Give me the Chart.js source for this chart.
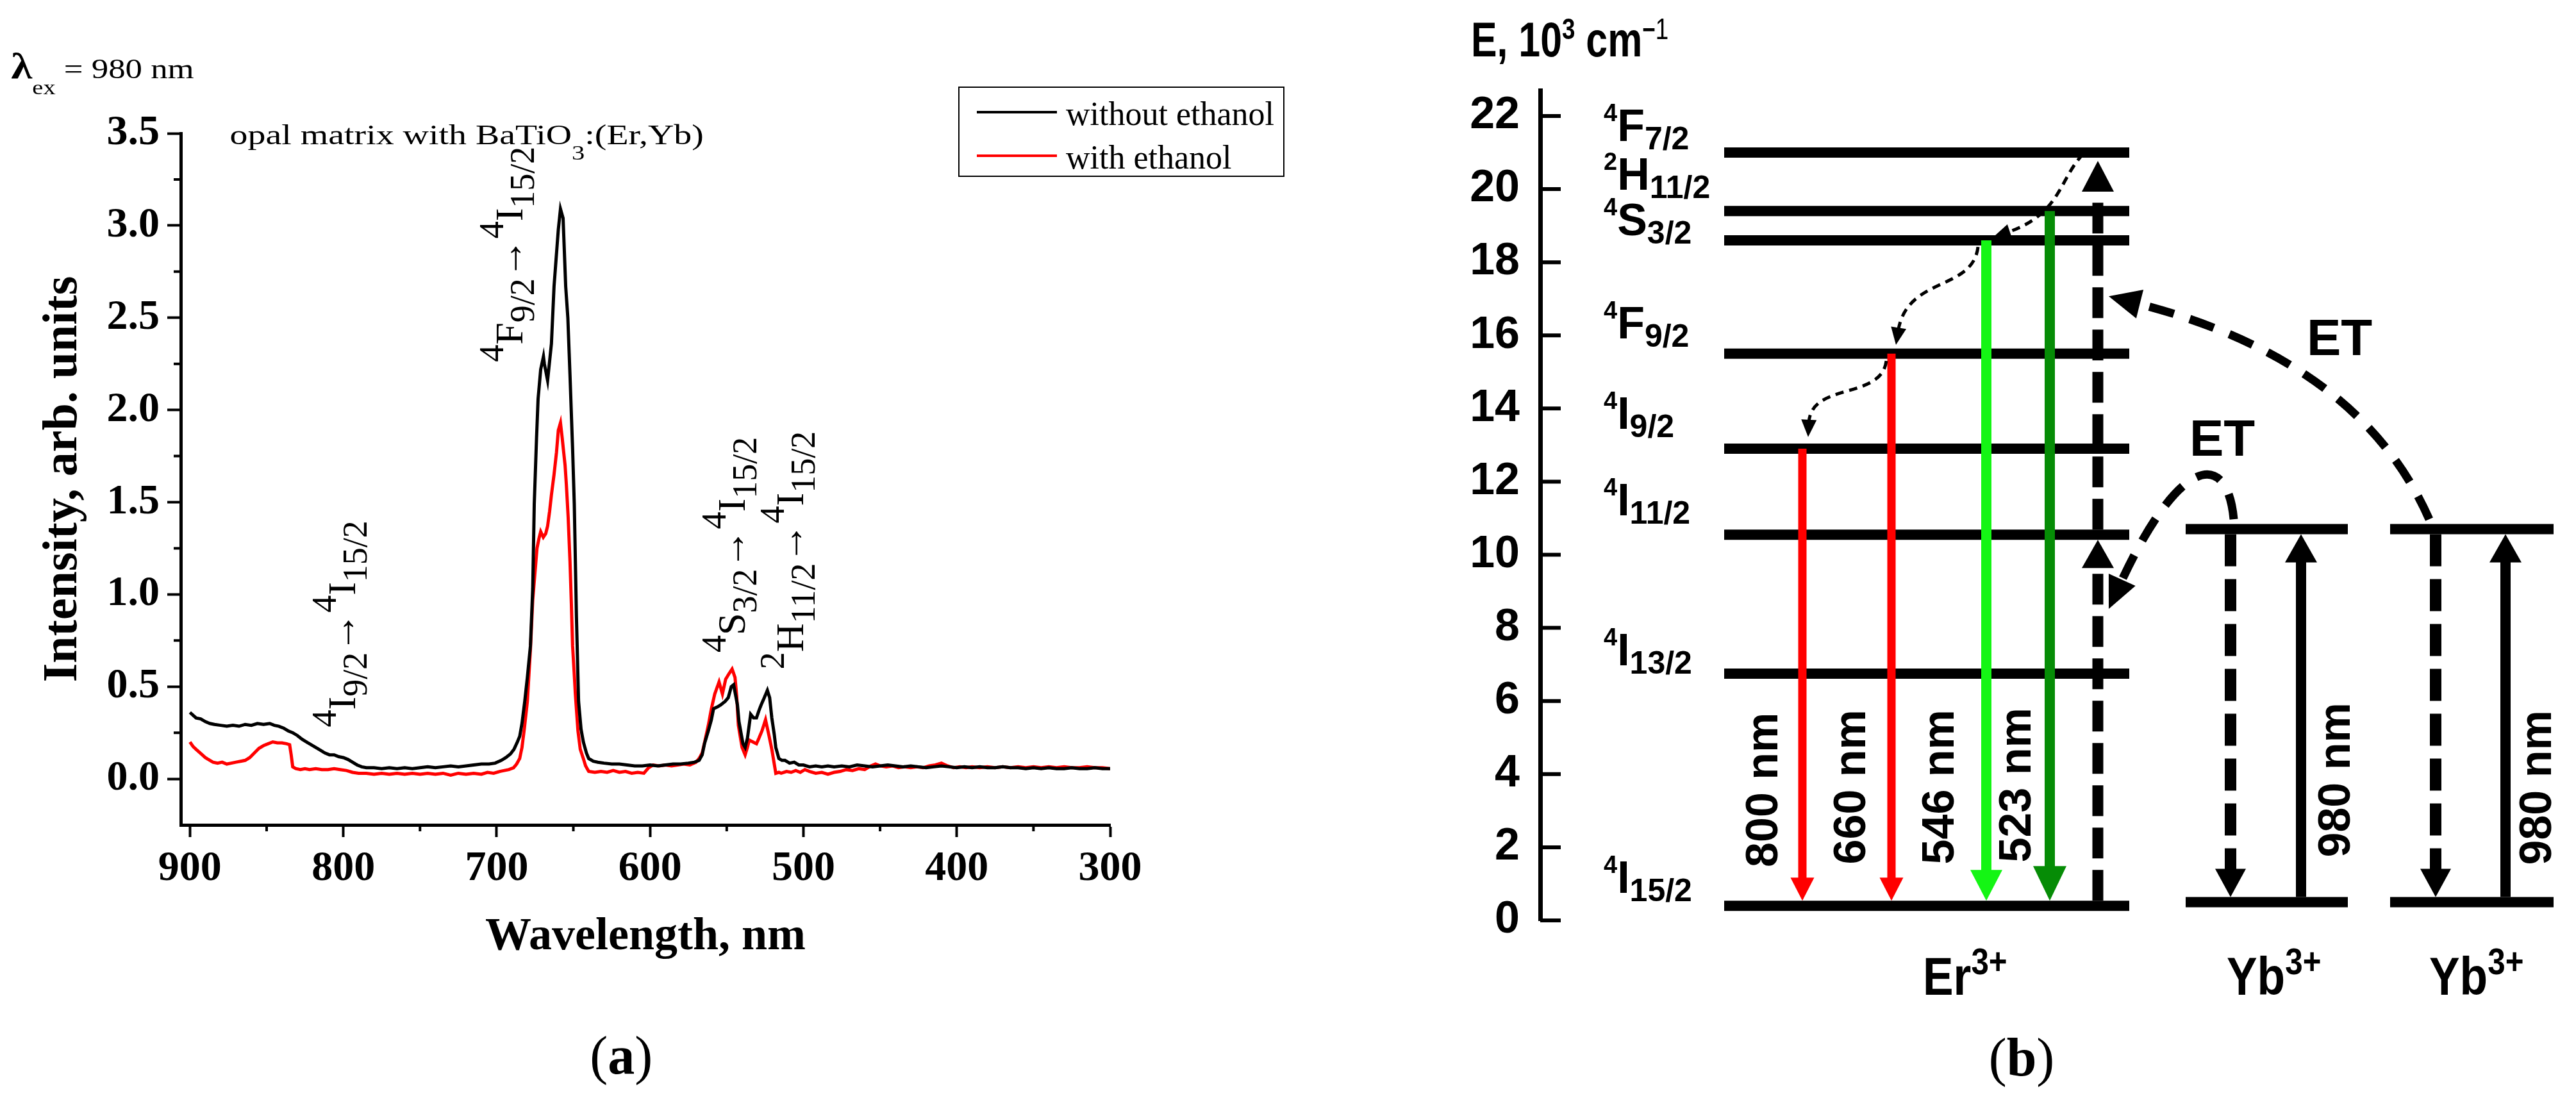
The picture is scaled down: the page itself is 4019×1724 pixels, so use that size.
<!DOCTYPE html>
<html>
<head>
<meta charset="utf-8">
<title>Upconversion luminescence of opal matrix with BaTiO3:(Er,Yb)</title>
<script src="https://cdn.jsdelivr.net/npm/chart.js@4.4.1/dist/chart.umd.min.js"></script>
<style>
  html, body { margin: 0; padding: 0; background: #ffffff; }
  #page { position: relative; width: 4019px; height: 1724px; overflow: hidden; background: #ffffff; }
  .panel { position: absolute; top: 0; height: 1724px; }
  #panelA { left: 0; width: 2200px; }
  #panelB { left: 2200px; width: 1819px; }
</style>
</head>
<body>
<div id="page">
  <div class="panel" id="panelA"><canvas id="spectraChart"></canvas></div>
  <div class="panel" id="panelB"><canvas id="levelsChart"></canvas></div>
</div>
<script>
// ==========================================
// DATA - panel (a): upconversion spectra
// ==========================================
const seriesNames = ['without ethanol', 'with ethanol'];

const wlBlack = [900, 898, 896, 893, 890, 887, 884, 880, 876, 872, 868, 864, 860, 856, 852, 848, 845, 842, 839, 836,
  833, 830, 827, 824, 821, 818, 815, 812, 809, 806, 803, 800, 797, 794, 791, 788, 785, 780, 775, 770,
  765, 760, 755, 750, 745, 740, 735, 730, 725, 720, 715, 710, 705, 701, 697, 694, 691, 688.7, 686.5, 685,
  683.5, 681.7, 680, 678, 676.5, 675.5, 674, 673, 671.3, 669.5, 668.9, 666.8, 664.3, 662.6, 659.8, 658.4, 656.7, 655, 653.6, 652.2,
  650.5, 649.4, 648, 646.6, 645, 643.5, 641.5, 640, 637, 634, 630, 625, 620, 615, 610, 605, 600, 595, 590, 585,
  580, 575, 571, 568, 566, 564.5, 562, 560, 558.6, 556, 554, 551, 549, 547, 545.5, 544.6, 543, 542, 540.5, 539.4,
  538, 536.5, 534.4, 532.5, 530.6, 529, 527.6, 525.5, 523.5, 522, 520.6, 519, 518, 516, 514, 512, 509, 506, 503, 500,
  496, 492, 488, 484, 480, 475, 470, 465, 460, 455, 450, 445, 440, 435, 430, 425, 420, 415, 410, 405,
  400, 395, 390, 385, 380, 375, 370, 365, 360, 355, 350, 345, 340, 335, 330, 325, 320, 315, 310, 305, 300];
const intBlack = [0.36, 0.345, 0.33, 0.325, 0.31, 0.30, 0.295, 0.29, 0.285, 0.29, 0.285, 0.295, 0.29, 0.30, 0.295, 0.30, 0.29, 0.285, 0.275, 0.26,
  0.25, 0.235, 0.215, 0.20, 0.185, 0.17, 0.155, 0.14, 0.13, 0.13, 0.12, 0.115, 0.105, 0.09, 0.075, 0.065, 0.06, 0.06, 0.055, 0.06,
  0.055, 0.06, 0.055, 0.06, 0.065, 0.06, 0.065, 0.07, 0.065, 0.07, 0.075, 0.08, 0.08, 0.085, 0.10, 0.115, 0.135, 0.16, 0.20, 0.23,
  0.30, 0.42, 0.55, 0.72, 1.03, 1.49, 1.85, 2.06, 2.22, 2.29, 2.25, 2.16, 2.36, 2.67, 2.98, 3.09, 3.04, 2.67, 2.50, 2.19,
  1.79, 1.49, 0.88, 0.42, 0.27, 0.20, 0.14, 0.11, 0.095, 0.09, 0.085, 0.08, 0.08, 0.075, 0.07, 0.07, 0.075, 0.07, 0.075, 0.08,
  0.08, 0.085, 0.09, 0.10, 0.13, 0.19, 0.26, 0.32, 0.38, 0.39, 0.40, 0.42, 0.44, 0.50, 0.51, 0.47, 0.40, 0.31, 0.24, 0.19,
  0.17, 0.22, 0.35, 0.33, 0.33, 0.37, 0.40, 0.44, 0.48, 0.44, 0.33, 0.24, 0.17, 0.11, 0.10, 0.10, 0.085, 0.09, 0.075, 0.075,
  0.065, 0.07, 0.065, 0.07, 0.065, 0.07, 0.065, 0.075, 0.07, 0.065, 0.07, 0.075, 0.07, 0.065, 0.07, 0.065, 0.06, 0.065, 0.07, 0.065,
  0.06, 0.065, 0.06, 0.065, 0.06, 0.06, 0.065, 0.06, 0.06, 0.055, 0.06, 0.055, 0.06, 0.055, 0.055, 0.06, 0.055, 0.055, 0.06, 0.055, 0.055];

const wlRed = [900, 898, 896, 894, 892, 890, 888, 885, 882, 879, 876, 873, 870, 867, 864, 861, 858, 855, 852, 849,
  846, 843, 840, 837, 835, 834, 833, 831, 828, 825, 822, 818, 814, 810, 806, 802, 798, 794, 790, 785,
  780, 775, 770, 765, 760, 755, 750, 745, 740, 735, 730, 725, 720, 715, 710, 706, 702, 698, 695, 692,
  689, 687, 685, 683.5, 682, 680, 678, 676.5, 675, 673.7, 672.5, 671.3, 669.6, 668, 666.8, 665.5, 664.3, 662.6, 661, 659.8,
  658.4, 657.3, 656.3, 655.4, 654.6, 653.4, 652.2, 651.3, 650.5, 649.5, 648.7, 647, 645.5, 643.5, 642, 640, 636, 632, 628, 624,
  620, 616, 612, 608, 604, 601, 598, 594, 590, 586, 582, 578, 574, 570, 568, 566, 564.5, 562, 560, 557.8,
  555, 552.8, 550.7, 548.5, 546.5, 544.6, 543.5, 542.4, 540, 538, 536.5, 535.3, 533, 530.6, 529, 527, 524.7, 522.6, 520.6, 519,
  518, 516, 514.5, 511, 508, 505, 502, 499, 496, 492, 488, 484, 480, 476, 472, 468, 464, 460, 456, 453,
  450, 446, 442, 438, 434, 430, 426, 422, 418, 414, 410, 406, 402, 398, 394, 390, 385, 380, 375, 370,
  365, 360, 355, 350, 345, 340, 335, 330, 325, 320, 315, 310, 305, 300];
const intRed = [0.20, 0.175, 0.16, 0.145, 0.13, 0.115, 0.105, 0.09, 0.085, 0.09, 0.08, 0.085, 0.09, 0.095, 0.10, 0.115, 0.14, 0.165, 0.18, 0.19,
  0.20, 0.195, 0.195, 0.19, 0.185, 0.13, 0.065, 0.055, 0.05, 0.055, 0.05, 0.055, 0.05, 0.05, 0.055, 0.05, 0.045, 0.035, 0.03, 0.03,
  0.025, 0.03, 0.025, 0.03, 0.025, 0.03, 0.025, 0.03, 0.025, 0.03, 0.02, 0.03, 0.025, 0.03, 0.025, 0.035, 0.03, 0.04, 0.045, 0.05,
  0.06, 0.08, 0.11, 0.17, 0.27, 0.42, 0.70, 0.97, 1.12, 1.25, 1.30, 1.34, 1.31, 1.33, 1.37, 1.45, 1.54, 1.65, 1.77, 1.89,
  1.93, 1.85, 1.77, 1.70, 1.60, 1.42, 1.18, 0.95, 0.72, 0.58, 0.46, 0.26, 0.16, 0.11, 0.07, 0.04, 0.035, 0.04, 0.035, 0.045,
  0.035, 0.04, 0.03, 0.035, 0.03, 0.06, 0.075, 0.07, 0.075, 0.07, 0.075, 0.08, 0.075, 0.09, 0.11, 0.14, 0.195, 0.29, 0.38, 0.46,
  0.525, 0.46, 0.54, 0.57, 0.595, 0.55, 0.45, 0.29, 0.17, 0.13, 0.17, 0.21, 0.20, 0.19, 0.22, 0.26, 0.32, 0.24, 0.16, 0.08,
  0.03, 0.035, 0.03, 0.04, 0.035, 0.045, 0.035, 0.05, 0.04, 0.03, 0.035, 0.025, 0.035, 0.04, 0.05, 0.045, 0.055, 0.05, 0.07, 0.08,
  0.07, 0.065, 0.07, 0.06, 0.065, 0.06, 0.065, 0.06, 0.07, 0.075, 0.085, 0.07, 0.06, 0.065, 0.06, 0.065, 0.06, 0.065, 0.06, 0.065,
  0.06, 0.065, 0.06, 0.065, 0.06, 0.065, 0.06, 0.065, 0.06, 0.06, 0.065, 0.06, 0.06, 0.055];

const xTicksA = [900, 800, 700, 600, 500, 400, 300];
const xMinorA = [850, 750, 650, 550, 450, 350];
const yTicksA = [0, 0.5, 1, 1.5, 2, 2.5, 3, 3.5];
const yMinorA = [0.25, 0.75, 1.25, 1.75, 2.25, 2.75, 3.25];
const transitionsA = [['4I9/2', '4I15/2'], ['4F9/2', '4I15/2'], ['4S3/2', '4I15/2'], ['2H11/2', '4I15/2']];
const excitationNm = 980;

// ==========================================
// DATA - panel (b): energy levels, 10^3 cm^-1
// ==========================================
const erLevelNames = ['4I15/2', '4I13/2', '4I11/2', '4I9/2', '4F9/2', '4S3/2', '2H11/2', '4F7/2'];
const erLevelEnergy = [0.4, 6.75, 10.55, 12.9, 15.5, 18.6, 19.4, 21.0];
const ybLevelNames = ['2F7/2', '2F5/2'];
const ybLevelEnergy = [0.5, 10.7];
const emissionNm = [800, 660, 546, 523];
const emissionFrom = ['4I9/2', '4F9/2', '4S3/2', '2H11/2'];
const yTicksB = [0, 2, 4, 6, 8, 10, 12, 14, 16, 18, 20, 22];

// ==========================================
// LAYOUT / STYLE
// ==========================================
const SERIF = '"Liberation Serif", "Times New Roman", serif';
const SANS = '"Liberation Sans", Arial, sans-serif';

// panel (a) text anchors, in data units (wavelength, intensity)
const LA = {
  notes: [[792.2, 0.28], [683.1, 2.26], [538.1, 0.685], [500.1, 0.594]],
  title: [874, 3.44],
  lambda: [1016.6, 3.80],
  caption: [618.8, -1.6]
};

// panel (b) diagram layout, x in diagram units (0..160), y in 10^3 cm^-1
const LB = {
  erSpan: [28.7, 91.9],
  ybSpans: [[100.7, 126.0], [132.6, 158.1]],
  levelThick: 16,
  emX: [40.9, 54.8, 69.6, 79.5],
  emColor: ['#ff0000', '#ff0000', '#14f514', '#068c06'],
  emWidth: [13, 13, 16, 16],
  emHead: [[36, 37], [36, 37], [48, 50], [54, 52]],
  emLabelX: [35.1, 48.8, 62.6, 74.6],
  emLabelY: [3.57, 3.65, 3.65, 3.70],
  pumpX: 87.0,
  ybDownX: [107.7, 139.7],
  ybUpX: [118.7, 150.6],
  ybLabelX: [124.4, 155.8],
  ybLabelY: [3.84, 3.63],
  levelLabelX: 9.9,
  levelLabelE: [0.75, 6.97, 11.07, 13.45, 15.91, 18.73, 19.98, 21.32],
  title: [-10.8, 23.63],
  ionLabels: [['Er', 59.7], ['Yb', 107.1], ['Yb', 138.7]],
  ionLabelY: -2.03,
  etLabels: [[124.7, 15.46], [106.4, 12.71]],
  caption: [75.1, -4.24],
  relax: [
    [[84.7, 20.96], [80.9, 20.26], [81.2, 19.30], [70.7, 18.69]],
    [[68.3, 18.42], [67.5, 17.20], [57.2, 17.63], [55.5, 15.74]],
    [[54.0, 15.30], [53.2, 14.22], [42.2, 14.74], [41.8, 13.22]]
  ],
  et: [
    [[138.7, 10.97], [127.7, 15.35], [88.7, 17.07]],
    [[108.2, 10.97], [107.2, 12.90], [99.7, 12.73], [88.7, 8.52]]
  ]
};

// ==========================================
// HELPERS
// ==========================================
// parts: [text, kind(0 normal, 1 sup, -1 sub), size?, weight?]
function drawRich(ctx, parts, x, y, o) {
  ctx.save();
  ctx.translate(x, y);
  if (o.rot) ctx.rotate(o.rot);
  if (o.sx) ctx.scale(o.sx, 1);
  ctx.fillStyle = o.color || '#000';
  ctx.textBaseline = 'alphabetic';
  ctx.textAlign = 'left';
  const font = p => {
    const size = p[2] || (p[1] === 0 ? o.size : o.small);
    const weight = p[3] || o.weight || 'normal';
    return weight + ' ' + size + 'px ' + o.family;
  };
  let width = 0;
  parts.forEach(p => { ctx.font = font(p); width += ctx.measureText(p[0]).width; });
  let cx = o.align === 'center' ? -width / 2 : 0;
  parts.forEach(p => {
    ctx.font = font(p);
    const dy = p[1] > 0 ? -o.up : (p[1] < 0 ? o.down : 0);
    ctx.fillText(p[0], cx, dy);
    cx += ctx.measureText(p[0]).width;
  });
  ctx.restore();
}

function termParts(term) {
  const m = term.match(/^(\d)([A-Z])(.+)$/);
  return [[m[1], 1], [m[2], 0], [m[3], -1]];
}

function vArrow(ctx, x, y0, y1, o) {
  const dir = Math.sign(y1 - y0);
  const base = y1 - dir * o.head;
  ctx.save();
  ctx.strokeStyle = o.color;
  ctx.fillStyle = o.color;
  ctx.lineWidth = o.width;
  ctx.lineCap = 'butt';
  ctx.setLineDash(o.dash || []);
  ctx.beginPath();
  ctx.moveTo(x, y0);
  ctx.lineTo(x, base + dir);
  ctx.stroke();
  ctx.setLineDash([]);
  ctx.beginPath();
  ctx.moveTo(x, y1);
  ctx.lineTo(x - o.hw / 2, base);
  ctx.lineTo(x + o.hw / 2, base);
  ctx.closePath();
  ctx.fill();
  ctx.restore();
}

function curveArrow(ctx, pts, o) {
  const [s, ...rest] = pts;
  const e = pts[pts.length - 1];
  const c = pts[pts.length - 2];
  const ang = Math.atan2(e[1] - c[1], e[0] - c[0]);
  const bx = e[0] - Math.cos(ang) * o.head * 0.8;
  const by = e[1] - Math.sin(ang) * o.head * 0.8;
  ctx.save();
  ctx.strokeStyle = '#000';
  ctx.fillStyle = '#000';
  ctx.lineWidth = o.width;
  ctx.lineCap = 'butt';
  ctx.setLineDash(o.dash);
  ctx.beginPath();
  ctx.moveTo(s[0], s[1]);
  if (rest.length === 2) ctx.quadraticCurveTo(rest[0][0], rest[0][1], bx, by);
  else ctx.bezierCurveTo(rest[0][0], rest[0][1], rest[1][0], rest[1][1], bx, by);
  ctx.stroke();
  ctx.setLineDash([]);
  ctx.translate(e[0], e[1]);
  ctx.rotate(ang);
  ctx.beginPath();
  ctx.moveTo(0, 0);
  ctx.lineTo(-o.head, -o.hw / 2);
  ctx.lineTo(-o.head, o.hw / 2);
  ctx.closePath();
  ctx.fill();
  ctx.restore();
}

// ==========================================
// PANEL (a) - SPECTRA
// ==========================================
const minorTicksA = {
  id: 'minorTicksA',
  afterDraw(chart) {
    const { ctx, chartArea, scales: { x, y } } = chart;
    ctx.save();
    ctx.strokeStyle = '#000';
    ctx.lineWidth = 4;
    ctx.beginPath();
    yMinorA.forEach(v => {
      const p = y.getPixelForValue(v);
      ctx.moveTo(chartArea.left - 11, p);
      ctx.lineTo(chartArea.left, p);
    });
    xMinorA.forEach(v => {
      const p = x.getPixelForValue(v);
      ctx.moveTo(p, chartArea.bottom);
      ctx.lineTo(p, chartArea.bottom + 10);
    });
    ctx.stroke();
    ctx.restore();
  }
};

const notesA = {
  id: 'notesA',
  afterDraw(chart) {
    const { ctx, chartArea, scales: { x, y } } = chart;
    const px = v => x.getPixelForValue(v);
    const py = v => y.getPixelForValue(v);

    // excitation wavelength
    drawRich(ctx, [['λ', 0, 56, 'bold'], ['ex', -1, 32], [' = ' + excitationNm + ' nm', 0]],
      px(LA.lambda[0]), py(LA.lambda[1]), { size: 44, small: 32, up: 0, down: 25, family: SERIF, sx: 1.2 });

    // sample title
    drawRich(ctx, [['opal matrix with BaTiO', 0], ['3', -1], [':(Er,Yb)', 0]],
      px(LA.title[0]), py(LA.title[1]), { size: 44, small: 32, up: 0, down: 24, family: SERIF, sx: 1.27 });

    // transition labels (rotated)
    transitionsA.forEach((t, i) => {
      const parts = termParts(t[0]).concat([['\u2192', 0]], termParts(t[1]));
      drawRich(ctx, parts, px(LA.notes[i][0]), py(LA.notes[i][1]),
        { size: 62, small: 54, up: 30, down: 18, family: SERIF, rot: -Math.PI / 2 });
    });

    // legend
    const bx = chartArea.right - 236, by = chartArea.top - 72, bw = 507, bh = 139;
    ctx.save();
    ctx.strokeStyle = '#000';
    ctx.lineWidth = 2;
    ctx.strokeRect(bx, by, bw, bh);
    chart.data.datasets.forEach((ds, i) => {
      const ly = by + 39 + i * 68;
      ctx.strokeStyle = ds.borderColor;
      ctx.lineWidth = 4;
      ctx.beginPath();
      ctx.moveTo(bx + 28, ly);
      ctx.lineTo(bx + 153, ly);
      ctx.stroke();
      ctx.fillStyle = '#000';
      ctx.font = '52px ' + SERIF;
      ctx.textBaseline = 'alphabetic';
      ctx.textAlign = 'left';
      ctx.fillText(ds.label, bx + 167, ly + 20);
    });
    ctx.restore();

    // panel caption
    drawRich(ctx, [['(', 0], ['a', 0, 84, 'bold'], [')', 0]], px(LA.caption[0]), py(LA.caption[1]),
      { size: 84, small: 84, up: 0, down: 0, family: SERIF, align: 'center' });
  }
};

const spectraChart = new Chart(document.getElementById('spectraChart'), {
  type: 'line',
  data: {
    datasets: [
      {
        label: seriesNames[0],
        data: wlBlack.map((w, i) => ({ x: w, y: intBlack[i] })),
        borderColor: '#000000',
        borderWidth: 5,
        pointRadius: 0,
        tension: 0
      },
      {
        label: seriesNames[1],
        data: wlRed.map((w, i) => ({ x: w, y: intRed[i] })),
        borderColor: '#ff0000',
        borderWidth: 5,
        pointRadius: 0,
        tension: 0
      }
    ]
  },
  options: {
    responsive: true,
    maintainAspectRatio: false,
    animation: false,
    devicePixelRatio: 1,
    events: [],
    layout: { padding: { left: 0, top: 208, right: 468, bottom: 218 } },
    plugins: { legend: { display: false }, tooltip: { enabled: false } },
    scales: {
      x: {
        type: 'linear',
        reverse: true,
        min: 300,
        max: 906,
        afterFit: s => { s.height = 219; },
        afterBuildTicks: s => { s.ticks = xTicksA.map(v => ({ value: v })); },
        grid: { drawOnChartArea: false, tickLength: 19, tickWidth: 4, tickColor: '#000' },
        border: { display: true, color: '#000', width: 5 },
        ticks: {
          font: { family: SERIF, size: 66, weight: 'bold' },
          color: '#000',
          padding: 10,
          maxRotation: 0,
          autoSkip: false
        },
        title: {
          display: true,
          text: 'Wavelength, nm',
          font: { family: SERIF, size: 72, weight: 'bold' },
          color: '#000',
          padding: { top: 0, bottom: 0 }
        }
      },
      y: {
        type: 'linear',
        min: -0.25,
        max: 3.5,
        afterFit: s => { s.width = 282; },
        afterBuildTicks: s => { s.ticks = yTicksA.map(v => ({ value: v })); },
        grid: { drawOnChartArea: false, tickLength: 21, tickWidth: 4, tickColor: '#000' },
        border: { display: true, color: '#000', width: 5 },
        ticks: {
          font: { family: SERIF, size: 66, weight: 'bold' },
          color: '#000',
          padding: 12,
          autoSkip: false,
          callback: v => Number(v).toFixed(1)
        },
        title: {
          display: true,
          text: 'Intensity, arb. units',
          font: { family: SERIF, size: 76, weight: 'bold' },
          color: '#000',
          padding: { top: 54, bottom: 0 }
        }
      }
    }
  },
  plugins: [minorTicksA, notesA]
});

// ==========================================
// PANEL (b) - ENERGY LEVEL DIAGRAM
// ==========================================
function levelLine(label, span, e) {
  return {
    label: label,
    data: [{ x: span[0], y: e }, { x: span[1], y: e }],
    borderColor: '#000000',
    borderWidth: LB.levelThick,
    borderCapStyle: 'butt',
    pointRadius: 0,
    clip: false
  };
}

const levelSets = [];
erLevelEnergy.forEach((e, i) => levelSets.push(levelLine(erLevelNames[i], LB.erSpan, e)));
LB.ybSpans.forEach(span => {
  ybLevelEnergy.forEach((e, j) => levelSets.push(levelLine(ybLevelNames[j], span, e)));
});

const diagramB = {
  id: 'diagramB',
  afterDatasetsDraw(chart) {
    const { ctx, chartArea, scales: { x, y } } = chart;
    const px = v => x.getPixelForValue(v);
    const py = v => y.getPixelForValue(v);
    const half = LB.levelThick / 2;
    const eOf = name => erLevelEnergy[erLevelNames.indexOf(name)];
    const groundTop = py(erLevelEnergy[0]) - half;

    // inward ticks of the energy axis
    ctx.save();
    ctx.strokeStyle = '#000';
    ctx.lineWidth = 6;
    ctx.beginPath();
    yTicksB.forEach(v => {
      const p = y.getPixelForValue(v);
      ctx.moveTo(chartArea.left, p);
      ctx.lineTo(chartArea.left + 32, p);
    });
    ctx.stroke();
    ctx.restore();

    // radiative transitions of Er3+
    emissionFrom.forEach((name, i) => {
      vArrow(ctx, px(LB.emX[i]), py(eOf(name)), groundTop,
        { color: LB.emColor[i], width: LB.emWidth[i], head: LB.emHead[i][0], hw: LB.emHead[i][1] });
    });

    // Er3+ excitation steps (dashed)
    const e11 = eOf('4I11/2'), e7 = eOf('4F7/2');
    vArrow(ctx, px(LB.pumpX), groundTop, py(e11) + half,
      { color: '#000', width: 17, head: 44, hw: 50, dash: [48, 18] });
    vArrow(ctx, px(LB.pumpX), py(e11) - half, py(e7) + half + 5,
      { color: '#000', width: 17, head: 48, hw: 50, dash: [48, 18] });

    // Yb3+ absorption and relaxation
    LB.ybDownX.forEach((xd, k) => {
      const top = py(ybLevelEnergy[1]), bot = py(ybLevelEnergy[0]);
      vArrow(ctx, px(xd), top + half, bot - half,
        { color: '#000', width: 18, head: 44, hw: 48, dash: [50, 20] });
      vArrow(ctx, px(LB.ybUpX[k]), bot - half, top + half,
        { color: '#000', width: 16, head: 44, hw: 50 });
    });

    // non-radiative relaxations
    LB.relax.forEach(c => {
      curveArrow(ctx, c.map(p => [px(p[0]), py(p[1])]), { width: 5, dash: [13, 9], head: 27, hw: 24 });
    });
    // energy transfer
    LB.et.forEach(c => {
      curveArrow(ctx, c.map(p => [px(p[0]), py(p[1])]), { width: 13, dash: [40, 26], head: 50, hw: 46 });
    });

    // --- texts ---
    // axis title
    drawRich(ctx, [['E, 10', 0], ['3', 1, 46], [' cm', 0], ['\u2212', 1, 44], ['1', 1, 46, 'normal']],
      px(LB.title[0]), py(LB.title[1]),
      { size: 76, small: 46, up: 27, down: 0, family: SANS, weight: 'bold', sx: 0.8 });

    // level labels
    erLevelNames.forEach((name, i) => {
      const t = termParts(name);
      drawRich(ctx, [[t[0][0], 1, 38], [t[1][0], 0, 70], [t[2][0], -1, 50]],
        px(LB.levelLabelX), py(LB.levelLabelE[i]),
        { size: 70, small: 50, up: 31, down: 13, family: SANS, weight: 'bold' });
    });

    // wavelength labels (rotated)
    ctx.save();
    ctx.fillStyle = '#000';
    ctx.font = 'bold 70px ' + SANS;
    ctx.textAlign = 'center';
    ctx.textBaseline = 'middle';
    emissionNm.forEach((nm, i) => {
      ctx.save();
      ctx.translate(px(LB.emLabelX[i]), py(LB.emLabelY[i]));
      ctx.rotate(-Math.PI / 2);
      ctx.fillText(nm + ' nm', 0, 0);
      ctx.restore();
    });
    LB.ybLabelX.forEach((xl, k) => {
      ctx.save();
      ctx.translate(px(xl), py(LB.ybLabelY[k]));
      ctx.rotate(-Math.PI / 2);
      ctx.fillText(excitationNm + ' nm', 0, 0);
      ctx.restore();
    });
    ctx.restore();

    // ET labels
    LB.etLabels.forEach(p => {
      drawRich(ctx, [['ET', 0]], px(p[0]), py(p[1]),
        { size: 80, small: 80, up: 0, down: 0, family: SANS, weight: 'bold', align: 'center' });
    });

    // ion labels
    LB.ionLabels.forEach(p => {
      drawRich(ctx, [[p[0], 0], ['3+', 1]], px(p[1]), py(LB.ionLabelY),
        { size: 84, small: 58, up: 32, down: 0, family: SANS, weight: 'bold', sx: 0.85 });
    });

    // panel caption
    drawRich(ctx, [['(', 0], ['b', 0, 84, 'bold'], [')', 0]], px(LB.caption[0]), py(LB.caption[1]),
      { size: 84, small: 84, up: 0, down: 0, family: SERIF, align: 'center' });
  }
};

const levelsChart = new Chart(document.getElementById('levelsChart'), {
  type: 'line',
  data: { datasets: levelSets },
  options: {
    responsive: true,
    maintainAspectRatio: false,
    animation: false,
    devicePixelRatio: 1,
    events: [],
    layout: { padding: { left: 0, top: 141, right: 16, bottom: 288 } },
    plugins: { legend: { display: false }, tooltip: { enabled: false } },
    scales: {
      x: { type: 'linear', min: 0, max: 160, display: false },
      y: {
        type: 'linear',
        min: 0,
        max: 22.7,
        afterFit: s => { s.width = 203; },
        afterBuildTicks: s => { s.ticks = yTicksB.map(v => ({ value: v })); },
        grid: { display: true, drawOnChartArea: false, drawTicks: false },
        border: { display: true, color: '#000', width: 7 },
        ticks: {
          font: { family: SANS, size: 70, weight: 'bold' },
          color: '#000',
          padding: 32,
          autoSkip: false
        }
      }
    }
  },
  plugins: [diagramB]
});
</script>
</body>
</html>
